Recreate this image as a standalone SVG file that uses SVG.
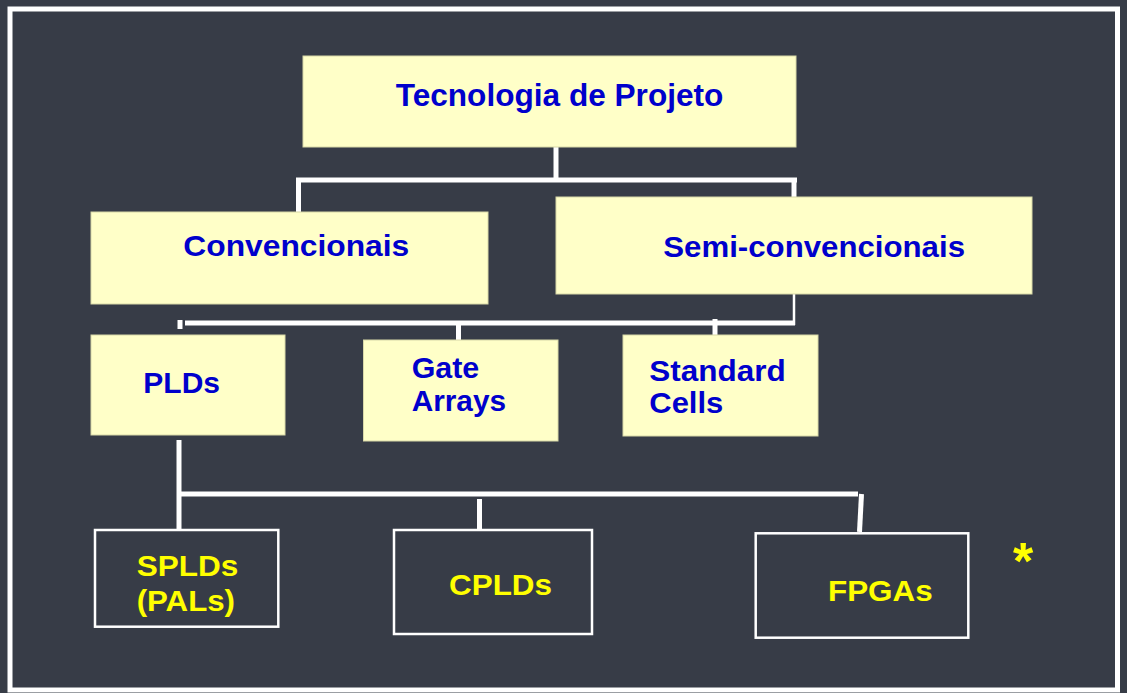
<svg xmlns="http://www.w3.org/2000/svg" width="1127" height="693" viewBox="0 0 1127 693">
<style>
.bg{fill:#373c47}
.frame{fill:none;stroke:#ffffff;stroke-width:5}
.ybox{fill:#ffffc8;stroke:#d8d8a8;stroke-width:1}
.obox{fill:#373c47;stroke:#ffffff;stroke-width:2.5}
.bt{font-family:"Liberation Sans",Arial,sans-serif;font-weight:bold;font-size:30px;fill:#0000cc}
.yt{font-family:"Liberation Sans",Arial,sans-serif;font-weight:bold;font-size:30px;fill:#ffff00}
.ln{stroke:#ffffff;stroke-width:5;fill:none}
.thin{stroke:#ffffff;stroke-width:2.5;fill:none}
</style>
<rect class="bg" x="0" y="0" width="1127" height="693"/>
<rect class="frame" x="10" y="9" width="1107.5" height="681"/>
<g id="connectors">
<line class="ln" x1="556" y1="147" x2="556" y2="182"/>
<line class="ln" x1="296" y1="180" x2="797" y2="180"/>
<line class="ln" x1="298.5" y1="178" x2="298.5" y2="212"/>
<line class="ln" x1="794" y1="178" x2="794" y2="197"/>
<line class="thin" x1="794" y1="294" x2="794" y2="325"/>
<line class="ln" x1="185" y1="323" x2="795" y2="323"/>
<line class="ln" x1="180" y1="320" x2="180" y2="329"/>
<line class="ln" x1="458.5" y1="323" x2="458.5" y2="340"/>
<line class="ln" x1="715" y1="319" x2="715" y2="335"/>
<line class="ln" x1="179" y1="440" x2="179" y2="529"/>
<line class="ln" x1="177" y1="494" x2="858" y2="494"/>
<line class="ln" x1="861.5" y1="494" x2="859.5" y2="532"/>
<line class="ln" x1="479.5" y1="499" x2="479.5" y2="530"/>
</g>
<g id="tecnologia">
<rect class="ybox" x="303" y="56" width="493" height="91"/>
<text class="bt" x="395.7" y="105.7" style="font-size:31.5px" textLength="327.7" lengthAdjust="spacingAndGlyphs">Tecnologia de Projeto</text>
</g>
<g id="convencionais">
<rect class="ybox" x="91" y="212" width="397" height="92"/>
<text class="bt" x="183.3" y="256" textLength="226" lengthAdjust="spacingAndGlyphs">Convencionais</text>
</g>
<g id="semi">
<rect class="ybox" x="556" y="197" width="476" height="97"/>
<text class="bt" x="663.3" y="257" textLength="301.7" lengthAdjust="spacingAndGlyphs">Semi-convencionais</text>
</g>
<g id="plds">
<rect class="ybox" x="91" y="335" width="194" height="100"/>
<text class="bt" x="143.3" y="392.5" textLength="76.7" lengthAdjust="spacingAndGlyphs">PLDs</text>
</g>
<g id="gate">
<rect class="ybox" x="363.5" y="340" width="194.5" height="101"/>
<text class="bt" x="411.7" y="377.5" textLength="67.6" lengthAdjust="spacingAndGlyphs">Gate</text>
<text class="bt" x="411.7" y="410.5" textLength="94.3" lengthAdjust="spacingAndGlyphs">Arrays</text>
</g>
<g id="standard">
<rect class="ybox" x="623" y="335" width="195" height="101"/>
<text class="bt" x="649.3" y="380.5" textLength="136.4" lengthAdjust="spacingAndGlyphs">Standard</text>
<text class="bt" x="649.3" y="413" textLength="74" lengthAdjust="spacingAndGlyphs">Cells</text>
</g>
<g id="splds">
<rect class="obox" x="95" y="530" width="183.3" height="96.7"/>
<text class="yt" x="136.7" y="575.5" textLength="101.6" lengthAdjust="spacingAndGlyphs">SPLDs</text>
<text class="yt" x="136.7" y="611" textLength="98.3" lengthAdjust="spacingAndGlyphs">(PALs)</text>
</g>
<g id="cplds">
<rect class="obox" x="394" y="530" width="198" height="104"/>
<text class="yt" x="449" y="595" textLength="103" lengthAdjust="spacingAndGlyphs">CPLDs</text>
</g>
<g id="fpgas">
<rect class="obox" x="755.7" y="533.3" width="212.6" height="104.4"/>
<text class="yt" x="828" y="600.5" textLength="104.7" lengthAdjust="spacingAndGlyphs">FPGAs</text>
</g>
<g id="asterisk">
<text class="yt" x="1013" y="579" style="font-size:52px">*</text>
</g>
</svg>
